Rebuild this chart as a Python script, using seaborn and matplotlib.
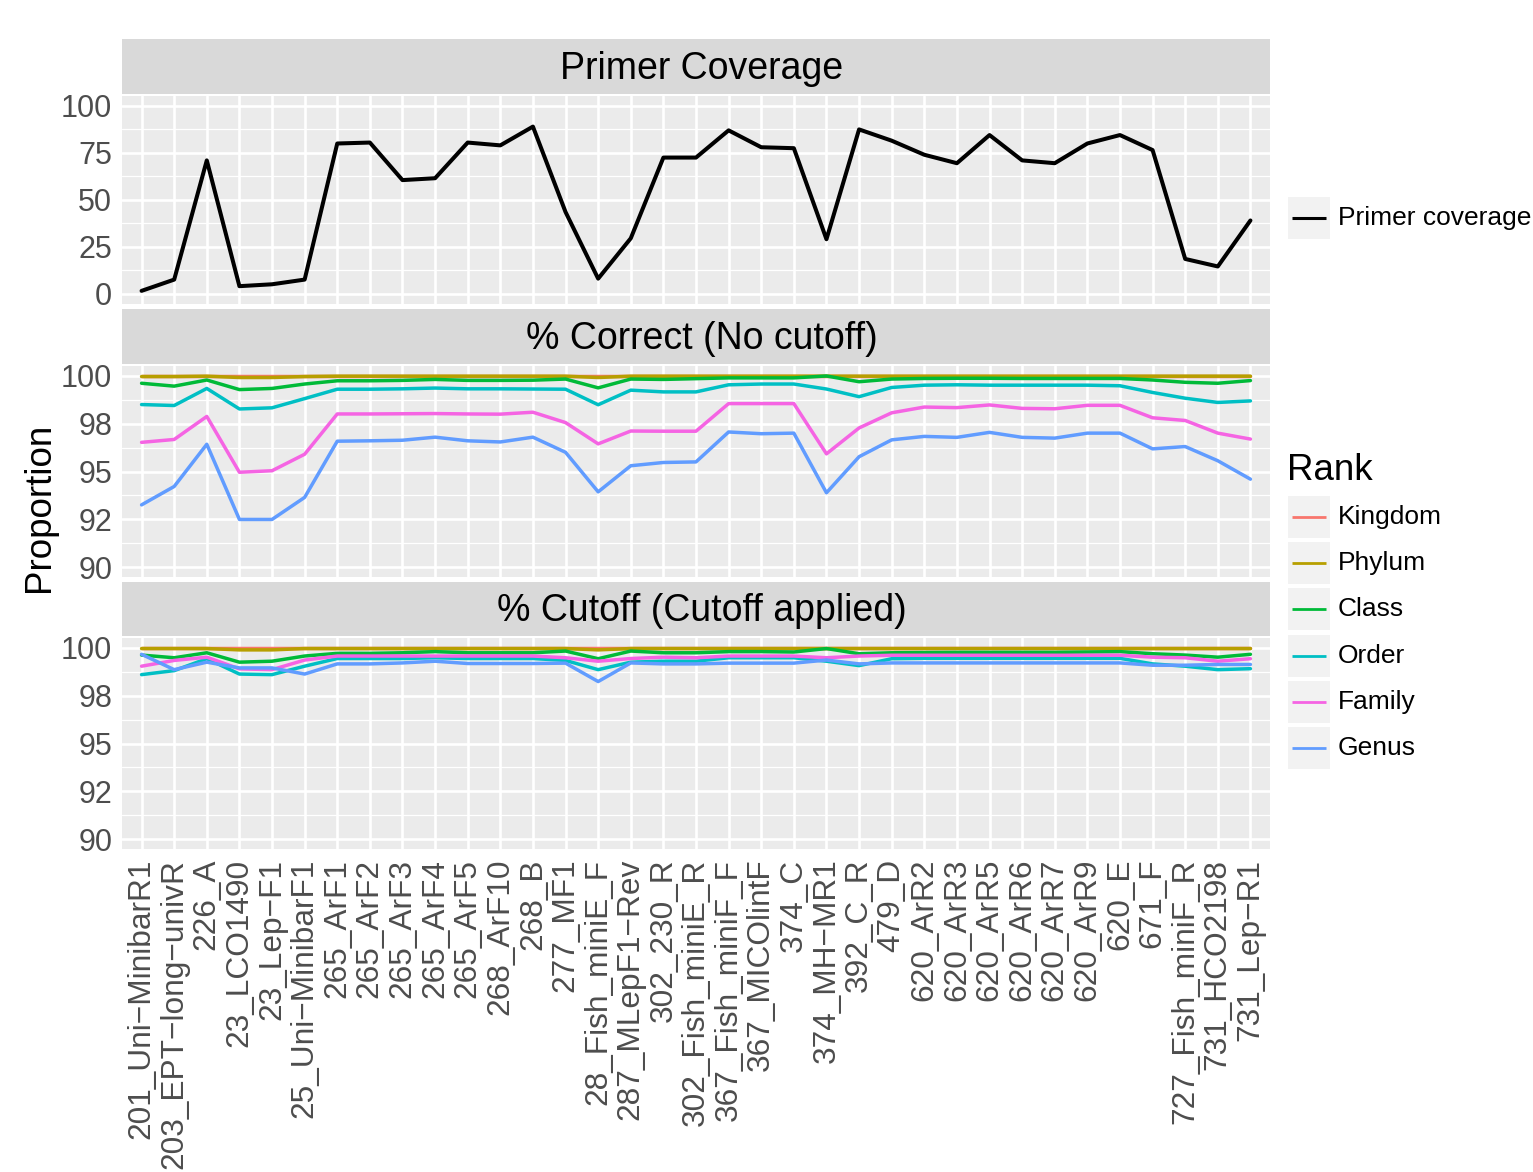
import matplotlib
matplotlib.use('Agg')
import matplotlib.pyplot as plt
import numpy as np
import pandas as pd
import seaborn as sns
from matplotlib.patches import Rectangle

# Data
primers = ['201_Uni−MinibarR1', '203_EPT−long−univR', '226_A', '23_LCO1490', '23_Lep−F1',
           '25_Uni−MinibarF1', '265_ArF1', '265_ArF2', '265_ArF3', '265_ArF4', '265_ArF5',
           '268_ArF10', '268_B', '277_MF1', '28_Fish_miniE_F', '287_MLepF1−Rev', '302_230_R',
           '302_Fish_miniE_R', '367_Fish_miniF_F', '367_MICOlintF', '374_C', '374_MH−MR1',
           '392_C_R', '479_D', '620_ArR2', '620_ArR3', '620_ArR5', '620_ArR6', '620_ArR7',
           '620_ArR9', '620_E', '671_F', '727_Fish_miniF_R', '731_HCO2198', '731_Lep−R1']

coverage = [1.5, 7.5, 71, 4, 5, 7.5, 80, 80.5, 60.5, 61.5, 80.5, 79, 89, 43.5, 8, 29.5, 72.5,
            72.5, 87, 78, 77.5, 29, 87.5, 81.5, 74, 69.5, 84.5, 71, 69.5, 80, 84.5, 76.5,
            18.5, 14.5, 39]

ranks = ['Kingdom', 'Phylum', 'Class', 'Order', 'Family', 'Genus']
rank_colors = ['#F8766D', '#B79F00', '#00BA38', '#00BFC4', '#F564E3', '#619CFF']

# % Correct (No cutoff)
kingdom_nc = [100, 100, 100, 100, 100, 100, 100, 100, 100, 100, 100, 100, 100, 100, 100, 100,
              100, 100, 100, 100, 100, 100, 100, 100, 100, 100, 100, 100, 100, 100, 100, 100,
              100, 100, 100]
phylum_nc = [99.95, 99.95, 99.97, 99.9, 99.9, 99.95, 99.97, 99.97, 99.97, 99.97, 99.97, 99.97,
             99.97, 99.97, 99.9, 99.97, 99.97, 99.97, 99.97, 99.97, 99.97, 99.97, 99.97, 99.97,
             99.97, 99.97, 99.97, 99.97, 99.97, 99.97, 99.97, 99.97, 99.97, 99.97, 99.97]
class_nc = [99.6, 99.45, 99.77, 99.27, 99.33, 99.56, 99.73, 99.73, 99.75, 99.8, 99.75, 99.75,
            99.76, 99.82, 99.36, 99.82, 99.8, 99.84, 99.88, 99.88, 99.88, 99.98, 99.68, 99.82,
            99.85, 99.86, 99.86, 99.85, 99.85, 99.85, 99.85, 99.77, 99.65, 99.6, 99.74]
order_nc = [98.49, 98.44, 99.33, 98.26, 98.32, 98.8, 99.29, 99.29, 99.31, 99.35, 99.31, 99.31,
            99.3, 99.29, 98.48, 99.24, 99.15, 99.15, 99.52, 99.56, 99.56, 99.3, 98.9, 99.38,
            99.5, 99.52, 99.5, 99.5, 99.5, 99.5, 99.47, 99.12, 98.82, 98.6, 98.68]
family_nc = [96.52, 96.67, 97.87, 94.96, 95.04, 95.9, 98.0, 98.0, 98.01, 98.02, 98.0, 97.99,
             98.09, 97.55, 96.44, 97.11, 97.1, 97.1, 98.54, 98.54, 98.54, 95.92, 97.27, 98.06,
             98.36, 98.33, 98.47, 98.29, 98.27, 98.45, 98.45, 97.8, 97.66, 97.0, 96.69]
genus_nc = [93.26, 94.22, 96.42, 92.5, 92.5, 93.65, 96.58, 96.6, 96.63, 96.79, 96.6, 96.54,
            96.79, 96.0, 93.94, 95.3, 95.47, 95.5, 97.06, 96.97, 97.0, 93.89, 95.77, 96.65,
            96.83, 96.78, 97.04, 96.78, 96.74, 97.0, 97.0, 96.18, 96.3, 95.56, 94.6]

# % Cutoff (Cutoff applied)
kingdom_c = [100, 100, 100, 100, 100, 100, 100, 100, 100, 100, 100, 100, 100, 100, 100, 100,
             100, 100, 100, 100, 100, 100, 100, 100, 100, 100, 100, 100, 100, 100, 100, 100,
             100, 100, 100]
phylum_c = [99.95, 99.95, 99.95, 99.88, 99.88, 99.95, 99.95, 99.95, 99.95, 99.95, 99.95, 99.95,
            99.95, 99.95, 99.88, 99.95, 99.95, 99.95, 99.95, 99.95, 99.95, 99.95, 99.95, 99.95,
            99.95, 99.95, 99.95, 99.95, 99.95, 99.95, 99.95, 99.95, 99.95, 99.95, 99.95]
class_c = [99.61, 99.47, 99.73, 99.24, 99.29, 99.56, 99.7, 99.7, 99.73, 99.79, 99.73, 99.73,
           99.73, 99.82, 99.42, 99.82, 99.73, 99.73, 99.79, 99.79, 99.77, 99.95, 99.68, 99.73,
           99.74, 99.75, 99.75, 99.75, 99.75, 99.77, 99.79, 99.68, 99.61, 99.5, 99.65]
order_c = [98.59, 98.8, 99.42, 98.62, 98.59, 99.03, 99.43, 99.43, 99.43, 99.47, 99.43, 99.43,
           99.43, 99.33, 98.85, 99.24, 99.29, 99.29, 99.47, 99.47, 99.47, 99.29, 99.06, 99.42,
           99.44, 99.44, 99.44, 99.44, 99.44, 99.44, 99.44, 99.15, 99.03, 98.85, 98.9]
family_c = [99.03, 99.33, 99.5, 98.89, 98.85, 99.35, 99.56, 99.56, 99.56, 99.56, 99.56, 99.56,
            99.56, 99.47, 99.29, 99.43, 99.5, 99.47, 99.56, 99.56, 99.56, 99.47, 99.56, 99.6,
            99.6, 99.6, 99.6, 99.6, 99.6, 99.6, 99.6, 99.5, 99.47, 99.29, 99.42]
genus_c = [99.65, 98.85, 99.24, 98.94, 98.94, 98.62, 99.15, 99.15, 99.2, 99.29, 99.17, 99.17,
           99.17, 99.19, 98.23, 99.2, 99.15, 99.15, 99.19, 99.19, 99.19, 99.35, 99.15, 99.2,
           99.2, 99.2, 99.2, 99.2, 99.2, 99.2, 99.2, 99.08, 99.08, 99.12, 99.12]

pos = np.arange(len(primers))


def long_table(series):
    frames = []
    for rank, vals in zip(ranks, series):
        frames.append(pd.DataFrame({'pos': pos, 'Rank': rank, 'value': vals}))
    return pd.concat(frames, ignore_index=True)


df_nc = long_table([kingdom_nc, phylum_nc, class_nc, order_nc, family_nc, genus_nc])
df_c = long_table([kingdom_c, phylum_c, class_c, order_c, family_c, genus_c])

sns.set_theme(style='white')
plt.rcParams['font.family'] = ['Liberation Sans', 'DejaVu Sans']

W, H = 1533, 1172
fig = plt.figure(figsize=(W / 100, H / 100), dpi=100)


def box(x0, y0, x1, y1):
    return [x0 / W, 1 - y1 / H, (x1 - x0) / W, (y1 - y0) / H]


PL, PR = 122, 1270
facets = [
    ('Primer Coverage', (39, 94), (96, 304)),
    ('% Correct (No cutoff)', (309, 364), (366, 577)),
    ('% Cutoff (Cutoff applied)', (582, 636), (638, 849)),
]

axes = []
for i, (title, (s0, s1), (p0, p1)) in enumerate(facets):
    sax = fig.add_axes(box(PL, s0, PR, s1))
    sax.set_facecolor('#D9D9D9')
    sax.set_xticks([])
    sax.set_yticks([])
    for sp in sax.spines.values():
        sp.set_visible(False)
    sax.text(0.505, 0.46, title, ha='center', va='center', fontsize=27, color='black',
             transform=sax.transAxes)

    ax = fig.add_axes(box(PL, p0, PR, p1))
    ax.set_facecolor('#EBEBEB')
    for sp in ax.spines.values():
        sp.set_visible(False)
    ax.set_axisbelow(True)
    axes.append(ax)

# Primer coverage panel
ax0 = axes[0]
sns.lineplot(x=pos, y=coverage, color='black', lw=2.9, ax=ax0, legend=False)
ax0.set_ylim(-5.5, 105.3)
ax0.set_yticks([0, 25, 50, 75, 100])
ax0.set_yticklabels(['0', '25', '50', '75', '100'])
ax0.set_yticks([12.5, 37.5, 62.5, 87.5], minor=True)

for ax, d in zip(axes[1:], [df_nc, df_c]):
    sns.lineplot(data=d, x='pos', y='value', hue='Rank', hue_order=ranks,
                 palette=rank_colors, lw=2.5, errorbar=None, legend=False, ax=ax)
    ax.set_ylim(89.5, 100.5)
    ax.set_yticks([90, 92.5, 95, 97.5, 100])
    ax.set_yticklabels(['90', '92', '95', '98', '100'])
    ax.set_yticks([91.25, 93.75, 96.25, 98.75], minor=True)

for i, ax in enumerate(axes):
    ax.set_xlim(-0.6, len(primers) - 0.4)
    ax.set_xticks(pos)
    if i < 2:
        ax.set_xticklabels([])
    else:
        ax.set_xticklabels(primers, rotation=90, ha='center', va='top', fontsize=22.8)
    ax.set_xlabel('')
    ax.set_ylabel('')
    ax.grid(which='major', color='white', lw=1.9)
    ax.grid(which='minor', axis='y', color='white', lw=0.9)
    ax.tick_params(which='both', length=0, labelsize=22, labelcolor='#4D4D4D', pad=7)
    ax.tick_params(axis='x', labelsize=22.8)

fig.text(40 / W, 1 - 507 / H, 'Proportion', rotation=90, ha='center', va='center',
         fontsize=26.5, color='black')

# Legends drawn in pixel coordinates
lax = fig.add_axes([0, 0, 1, 1])
lax.set_xlim(0, W)
lax.set_ylim(H, 0)
lax.axis('off')
lax.patch.set_alpha(0)

KX0, KW, KH = 1288, 42, 44


def key(yc, color, lw):
    lax.add_patch(Rectangle((KX0, yc - KH / 2 + 1), KW, KH - 2, facecolor='#F2F2F2',
                            edgecolor='none'))
    lax.plot([KX0 + 4, KX0 + KW - 4], [yc, yc], color=color, lw=lw, solid_capstyle='butt')


key(218, 'black', 2.2)
lax.text(1338, 218, 'Primer coverage', ha='left', va='center', fontsize=19, color='black')

lax.text(1287, 470, 'Rank', ha='left', va='center', fontsize=26.5, color='black')
for j, (rank, col) in enumerate(zip(ranks, rank_colors)):
    yc = 517 + j * 46.2
    key(yc, col, 2.0)
    lax.text(1338, yc, rank, ha='left', va='center', fontsize=19, color='black')

fig.savefig('out.png', dpi=100)
